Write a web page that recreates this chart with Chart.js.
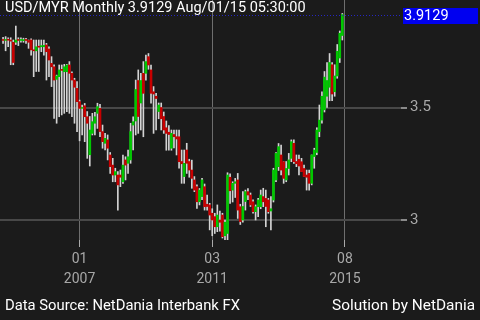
<!DOCTYPE html>
<html><head><meta charset="utf-8">
<script src="https://cdn.jsdelivr.net/npm/chart.js@4.4.1/dist/chart.umd.min.js"></script>
<style>
html,body{margin:0;padding:0;background:#1b1b1b;width:480px;height:320px;overflow:hidden;}
#wrap{position:relative;width:480px;height:320px;}
#c{position:absolute;left:0;top:0;}
.txt{position:absolute;font-family:Roboto,"Noto Sans",sans-serif;font-size:14.5px;color:#fff;white-space:nowrap;line-height:16px;}
</style></head><body>
<div id="wrap"><canvas id="c" width="480" height="320"></canvas>
<div class="txt" id="title" style="left:5px;top:0px;">USD/MYR Monthly 3.9129 Aug/01/15 05:30:00</div>
<div class="txt" id="price" style="left:403px;top:7px;width:75px;height:16px;background:#0000f0;padding-left:1px;box-sizing:border-box;"></div>
<div class="txt" style="left:5px;top:297px;font-size:14.8px;">Data Source: NetDania Interbank FX</div>
<div class="txt" style="right:5px;top:297px;font-size:15.4px;">Solution by NetDania</div>
</div>
<script>
// Monthly candles, index 0 = Jul 2004 ... index 133 = Aug 2015
const opens = [3.802,3.798,3.800,3.800,3.790,3.790,3.800,3.798,3.797,3.800,
3.798,3.800,3.756,3.752,3.770,3.770,3.770,3.778,3.760,3.696,
3.681,3.625,3.637,3.667,3.659,3.659,3.689,3.652,3.622,3.585,
3.526,3.496,3.508,3.459,3.290,3.385,3.430,3.474,3.496,3.393,
3.341,3.356,3.289,3.244,3.200,3.200,3.200,3.170,3.267,3.252,
3.267,3.422,3.440,3.620,3.520,3.652,3.652,3.726,3.667,3.570,
3.550,3.482,3.500,3.460,3.410,3.390,3.319,3.380,3.370,3.370,
3.260,3.193,3.311,3.260,3.222,3.178,3.148,3.081,3.104,3.148,
3.070,3.067,3.030,3.015,2.970,3.000,3.022,2.930,2.940,3.190,
3.133,3.163,3.178,3.059,3.000,3.082,3.126,3.111,3.081,3.037,
3.059,3.059,3.104,3.096,3.089,3.040,3.089,3.178,3.237,3.289,
3.259,3.178,3.229,3.274,3.341,3.260,3.270,3.259,3.229,3.200,
3.207,3.163,3.282,3.300,3.393,3.444,3.490,3.550,3.590,3.690,
3.570,3.640,3.720,3.820];
const highs = [3.812,3.815,3.810,3.810,3.800,3.862,3.810,3.810,3.808,3.807,
3.800,3.805,3.800,3.800,3.800,3.800,3.800,3.785,3.770,3.726,
3.690,3.644,3.689,3.689,3.692,3.692,3.704,3.659,3.630,3.615,
3.533,3.511,3.518,3.482,3.460,3.474,3.478,3.519,3.514,3.422,
3.385,3.378,3.300,3.274,3.230,3.215,3.222,3.289,3.281,3.311,
3.430,3.459,3.622,3.667,3.652,3.704,3.733,3.740,3.689,3.593,
3.563,3.520,3.520,3.480,3.440,3.420,3.400,3.400,3.400,3.400,
3.311,3.311,3.341,3.270,3.266,3.193,3.156,3.140,3.185,3.160,
3.111,3.074,3.050,3.030,3.067,3.040,3.030,3.000,3.210,3.205,
3.170,3.185,3.207,3.070,3.126,3.133,3.140,3.120,3.090,3.067,
3.096,3.133,3.141,3.133,3.096,3.104,3.230,3.300,3.340,3.333,
3.259,3.260,3.296,3.356,3.356,3.289,3.289,3.274,3.244,3.222,
3.222,3.289,3.319,3.410,3.511,3.570,3.660,3.700,3.740,3.700,
3.690,3.780,3.840,3.918];
const lows = [3.785,3.752,3.770,3.690,3.690,3.780,3.775,3.790,3.790,3.785,
3.763,3.733,3.637,3.660,3.660,3.748,3.733,3.622,3.637,3.593,
3.452,3.430,3.459,3.467,3.474,3.482,3.474,3.459,3.430,3.393,
3.352,3.378,3.348,3.274,3.240,3.378,3.378,3.407,3.370,3.319,
3.311,3.267,3.207,3.170,3.170,3.044,3.148,3.163,3.178,3.207,
3.252,3.311,3.378,3.385,3.400,3.370,3.622,3.670,3.519,3.385,
3.400,3.450,3.400,3.385,3.310,3.310,3.310,3.320,3.289,3.230,
3.163,3.163,3.207,3.190,3.141,3.126,3.052,3.067,3.090,3.044,
3.044,2.956,2.930,2.940,2.948,2.950,2.920,2.905,2.910,3.074,
3.080,3.100,3.007,2.980,2.990,3.044,3.090,3.060,3.030,3.000,
3.015,3.050,3.059,2.970,3.030,2.956,3.080,3.170,3.220,3.200,
3.163,3.170,3.200,3.259,3.252,3.237,3.200,3.215,3.193,3.133,
3.133,3.156,3.230,3.290,3.370,3.430,3.480,3.500,3.530,3.530,
3.550,3.630,3.700,3.800];
const closes = [3.798,3.800,3.799,3.795,3.700,3.800,3.798,3.802,3.801,3.798,
3.790,3.756,3.752,3.770,3.768,3.775,3.776,3.748,3.711,3.681,
3.622,3.640,3.667,3.665,3.681,3.689,3.652,3.622,3.590,3.526,
3.496,3.500,3.459,3.430,3.400,3.437,3.459,3.504,3.393,3.348,
3.363,3.319,3.237,3.200,3.215,3.156,3.190,3.244,3.244,3.281,
3.393,3.437,3.580,3.460,3.620,3.563,3.704,3.689,3.563,3.560,
3.540,3.511,3.450,3.400,3.385,3.380,3.385,3.370,3.360,3.259,
3.250,3.252,3.252,3.222,3.185,3.133,3.081,3.133,3.178,3.059,
3.060,3.022,3.000,2.970,3.022,2.990,2.926,2.990,3.200,3.130,
3.163,3.170,3.044,2.993,3.060,3.126,3.111,3.067,3.037,3.059,
3.089,3.111,3.081,3.060,3.037,3.050,3.222,3.296,3.326,3.222,
3.185,3.229,3.267,3.348,3.259,3.250,3.240,3.215,3.193,3.190,
3.163,3.289,3.311,3.400,3.444,3.550,3.635,3.620,3.700,3.560,
3.640,3.750,3.830,3.9129];

const lastPrice = 3.9129;
const tickIndex = [30, 82, 134];
const tickMonths = ['01', '03', '08'];
const tickYears = ['2007', '2011', '2015'];
const yTickValues = [3, 3.5];
const yTickLabels = ['3', '3.5'];

const wickData = lows.map((l, i) => ({x: i, y: [l, highs[i]]}));
const bodyData = opens.map((o, i) => ({x: i, y: [o, closes[i]]}));
const bodyColors = opens.map((o, i) => closes[i] >= o ? '#00c800' : '#c80000');

const lastLine = {
  id: 'lastLine',
  afterDatasetsDraw(chart) {
    const {ctx, chartArea, scales} = chart;
    const y = Math.round(scales.y.getPixelForValue(lastPrice)) + 0.5;
    ctx.save();
    ctx.strokeStyle = '#2626c0';
    ctx.lineWidth = 1;
    ctx.setLineDash([1, 2]);
    ctx.beginPath();
    ctx.moveTo(chartArea.left, y);
    ctx.lineTo(chartArea.right, y);
    ctx.stroke();
    ctx.restore();
  }
};

const fam = 'Roboto, "Noto Sans", sans-serif';
const chart = new Chart(document.getElementById('c'), {
  type: 'bar',
  data: {
    datasets: [
      {data: bodyData, backgroundColor: bodyColors, barThickness: 2, minBarLength: 1, grouped: false, order: 0},
      {data: wickData, backgroundColor: '#d4d4d4', barThickness: 1, grouped: false, order: 1}
    ]
  },
  options: {
    responsive: false,
    animation: false,
    events: [],
    layout: {padding: 0},
    plugins: {legend: {display: false}, tooltip: {enabled: false}, title: {display: false}},
    scales: {
      x: {
        type: 'linear', position: 'bottom', min: -1.2, max: 156, offset: false,
        border: {display: false},
        grid: {offset: false, color: 'rgba(110,110,110,1)', lineWidth: 1, tickLength: 7, tickColor: '#aaaaaa'},
        afterBuildTicks: (s) => { s.ticks = tickIndex.map(v => ({value: v})); },
        afterFit: (s) => { s.height = 80; s.paddingLeft = 0; s.paddingRight = 0; },
        ticks: {
          autoSkip: false, maxRotation: 0, padding: 2, color: '#a8a8a8',
          font: {family: fam, size: 14, lineHeight: '20px'},
          callback: (v, i) => [tickMonths[i], tickYears[i]]
        }
      },
      y: {
        type: 'linear', position: 'right', min: 2.9111, max: 3.9778,
        border: {display: false},
        grid: {color: 'rgba(72,72,72,1)', lineWidth: 2, tickLength: 6, tickColor: '#8a8a8a', tickWidth: 2},
        afterBuildTicks: (s) => { s.ticks = yTickValues.map(v => ({value: v})); },
        afterFit: (s) => { s.width = 79; s.paddingTop = 0; s.paddingBottom = 0; },
        ticks: {
          padding: 3, color: '#a8a8a8', font: {family: fam, size: 15},
          callback: (v, i) => yTickLabels[i]
        }
      }
    }
  },
  plugins: [lastLine]
});

const price = document.getElementById('price');
price.textContent = lastPrice.toFixed(4);
price.style.top = (Math.round(chart.scales.y.getPixelForValue(lastPrice)) - 7) + 'px';
</script>
</body></html>
